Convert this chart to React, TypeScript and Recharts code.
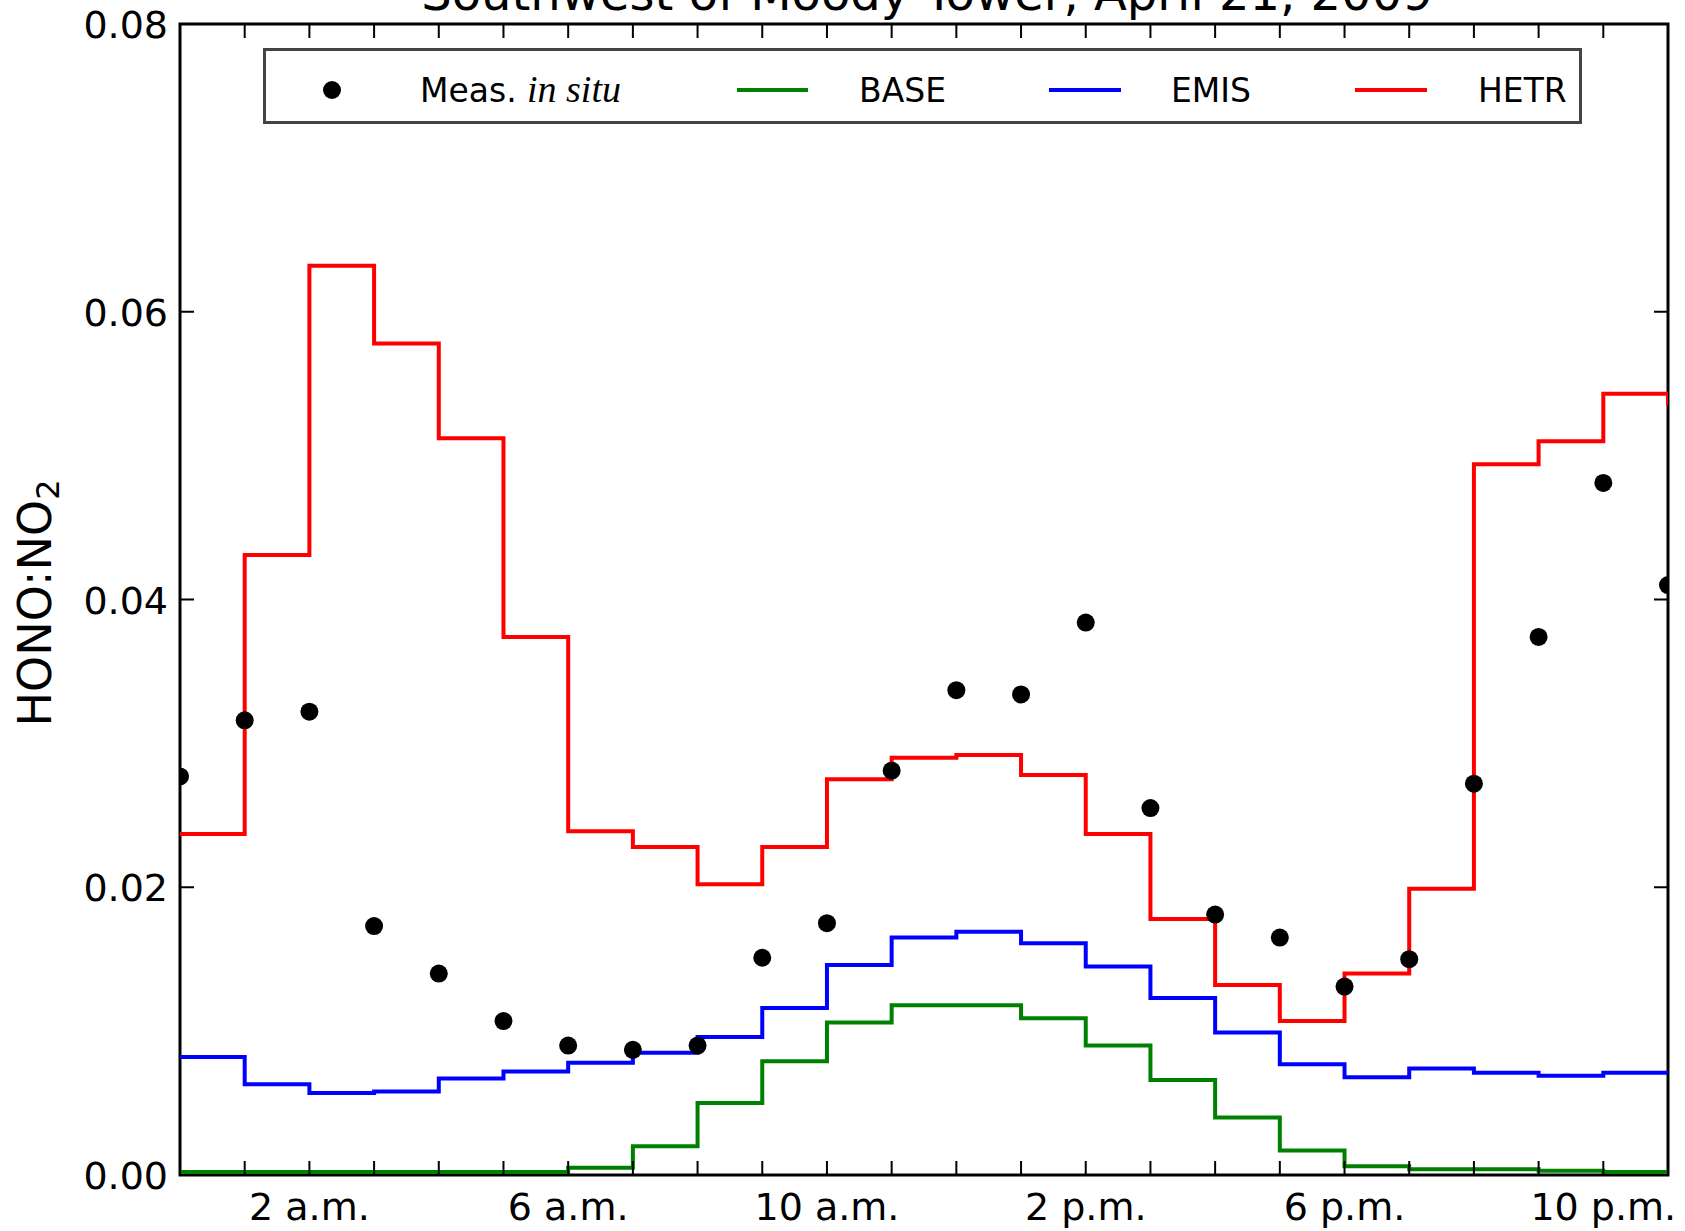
import React from 'react';
import { ComposedChart, Line, Scatter, XAxis, YAxis, Legend, ReferenceArea } from 'recharts';

const hours = [0, 1, 2, 3, 4, 5, 6, 7, 8, 9, 10, 11, 12, 13, 14, 15, 16, 17, 18, 19, 20, 21, 22, 23];
const measured = [0.0277, 0.0316, 0.0322, 0.0173, 0.0140, 0.0107, 0.0090, 0.0087, 0.0090, 0.0151, 0.0175, 0.0281, 0.0337, 0.0334, 0.0384, 0.0255, 0.0181, 0.0165, 0.0131, 0.0150, 0.0272, 0.0374, 0.0481, 0.0410];
const baseRun = [0.0002, 0.0002, 0.0002, 0.0002, 0.0002, 0.0002, 0.0005, 0.0020, 0.0050, 0.0079, 0.0106, 0.0118, 0.0118, 0.0109, 0.0090, 0.0066, 0.0040, 0.0017, 0.0006, 0.0004, 0.0004, 0.0003, 0.0002, 0.0002];
const emisRun = [0.0082, 0.0063, 0.0057, 0.0058, 0.0067, 0.0072, 0.0078, 0.0085, 0.0096, 0.0116, 0.0146, 0.0165, 0.0169, 0.0161, 0.0145, 0.0123, 0.0099, 0.0077, 0.0068, 0.0074, 0.0071, 0.0069, 0.0071, 0.0071];
const hetrRun = [0.0237, 0.0431, 0.0632, 0.0578, 0.0512, 0.0374, 0.0239, 0.0228, 0.0202, 0.0228, 0.0275, 0.0290, 0.0292, 0.0278, 0.0237, 0.0178, 0.0132, 0.0107, 0.0140, 0.0199, 0.0494, 0.0510, 0.0543, 0.0535];

const yTicks = [0, 0.02, 0.04, 0.06, 0.08];
const yTickLabels = ['0.00', '0.02', '0.04', '0.06', '0.08'];
const xLabelHours = [2, 6, 10, 14, 18, 22];
const xLabelTexts = ['2 a.m.', '6 a.m.', '10 a.m.', '2 p.m.', '6 p.m.', '10 p.m.'];
const chartTitle = 'Southwest of Moody Tower, April 21, 2009';

const data = hours.map((h, i) => ({
  hour: h,
  meas: measured[i],
  base: baseRun[i],
  emis: emisRun[i],
  hetr: hetrRun[i],
}));

const FONT = 'DejaVu Sans';
const TICK_LEN = 14;

const BottomTick = (props: any) => {
  const { x, y, payload } = props;
  const idx = xLabelHours.indexOf(payload.value);
  return (
    <g>
      <line x1={x} x2={x} y1={y} y2={y - TICK_LEN} stroke="#000" strokeWidth={2} />
      {idx >= 0 && (
        <text x={x} y={y + 45} textAnchor="middle" fontSize={38} fontFamily={FONT} fill="#000">
          {xLabelTexts[idx]}
        </text>
      )}
    </g>
  );
};

const TopTick = (props: any) => {
  const { x, y } = props;
  return <line x1={x} x2={x} y1={y} y2={y + TICK_LEN} stroke="#000" strokeWidth={2} />;
};

const LeftTick = (props: any) => {
  const { x, y, payload } = props;
  const idx = yTicks.indexOf(payload.value);
  return (
    <g>
      <line x1={x} x2={x + TICK_LEN} y1={y} y2={y} stroke="#000" strokeWidth={2} />
      <text x={x - 12} y={y + 14} textAnchor="end" fontSize={38} fontFamily={FONT} fill="#000">
        {idx >= 0 ? yTickLabels[idx] : ''}
      </text>
    </g>
  );
};

const RightTick = (props: any) => {
  const { x, y } = props;
  return <line x1={x} x2={x - TICK_LEN} y1={y} y2={y} stroke="#000" strokeWidth={2} />;
};

const TitleLabel = () => (
  <text x={927} y={10} textAnchor="middle" fontSize={48} fontFamily={FONT} fill="#000">
    {chartTitle}
  </text>
);

const YLabel = () => (
  <text
    x={51}
    y={603}
    transform="rotate(-90, 51, 603)"
    textAnchor="middle"
    fontSize={46}
    fontFamily={FONT}
    fill="#000"
  >
    HONO:NO
    <tspan fontSize={32} dy={8}>2</tspan>
  </text>
);

const LegendBox = () => (
  <svg width={1319} height={76} style={{ display: 'block' }}>
    <rect x={1.5} y={1.5} width={1316} height={73} fill="#fff" stroke="#444" strokeWidth={3} />
    <circle cx={69} cy={42} r={9} fill="#000" />
    <text x={157} y={54} fontSize={33} fontFamily={FONT} fill="#000">Meas.</text>
    <text x={264} y={54} fontSize={38} fontFamily="Liberation Serif" fontStyle="italic" fill="#000">in situ</text>
    <line x1={474} x2={545} y1={42} y2={42} stroke="#008000" strokeWidth={4} />
    <text x={596} y={54} fontSize={33} fontFamily={FONT} fill="#000">BASE</text>
    <line x1={786} x2={858} y1={42} y2={42} stroke="#0000ff" strokeWidth={4} />
    <text x={908} y={54} fontSize={33} fontFamily={FONT} fill="#000">EMIS</text>
    <line x1={1092} x2={1164} y1={42} y2={42} stroke="#ff0000" strokeWidth={4} />
    <text x={1215} y={54} fontSize={33} fontFamily={FONT} fill="#000">HETR</text>
  </svg>
);

const Dot = (props: any) => <circle cx={props.cx} cy={props.cy} r={9} fill="#000" />;

export default function App() {
  return (
    <div style={{ position: 'absolute', left: 0, top: 0, background: '#fff' }}>
      <ComposedChart
        width={1685}
        height={1231}
        data={data}
        margin={{ top: 23, right: 16, bottom: 55, left: 179 }}
      >
        <XAxis
          xAxisId="b"
          dataKey="hour"
          type="number"
          domain={[0, 23]}
          ticks={hours}
          interval={0}
          allowDataOverflow
          orientation="bottom"
          height={1}
          tickSize={0}
          tickMargin={0}
          tickLine={false}
          axisLine={false}
          tick={<BottomTick />}
        />
        <XAxis
          xAxisId="t"
          dataKey="hour"
          type="number"
          domain={[0, 23]}
          ticks={hours}
          interval={0}
          allowDataOverflow
          orientation="top"
          height={1}
          tickSize={0}
          tickMargin={0}
          tickLine={false}
          axisLine={false}
          tick={<TopTick />}
          label={{ content: <TitleLabel /> }}
        />
        <YAxis
          yAxisId="l"
          type="number"
          domain={[0, 0.08]}
          ticks={yTicks}
          interval={0}
          allowDataOverflow
          orientation="left"
          width={1}
          tickSize={0}
          tickMargin={0}
          tickLine={false}
          axisLine={false}
          tick={<LeftTick />}
          label={{ content: <YLabel /> }}
        />
        <YAxis
          yAxisId="r"
          type="number"
          domain={[0, 0.08]}
          ticks={yTicks}
          interval={0}
          allowDataOverflow
          orientation="right"
          width={1}
          tickSize={0}
          tickMargin={0}
          tickLine={false}
          axisLine={false}
          tick={<RightTick />}
        />
        <Scatter
          xAxisId="b"
          yAxisId="l"
          dataKey="meas"
          name="Meas. in situ"
          fill="#000"
          shape={<Dot />}
          isAnimationActive={false}
        />
        <Line xAxisId="b" yAxisId="l" type="stepAfter" dataKey="base" name="BASE" stroke="#008000" strokeWidth={4} dot={false} activeDot={false} isAnimationActive={false} />
        <Line xAxisId="b" yAxisId="l" type="stepAfter" dataKey="emis" name="EMIS" stroke="#0000ff" strokeWidth={4} dot={false} activeDot={false} isAnimationActive={false} />
        <Line xAxisId="b" yAxisId="l" type="stepAfter" dataKey="hetr" name="HETR" stroke="#ff0000" strokeWidth={4} dot={false} activeDot={false} isAnimationActive={false} />
        <ReferenceArea
          xAxisId="b"
          yAxisId="l"
          x1={0}
          x2={23}
          y1={0}
          y2={0.08}
          fill="none"
          fillOpacity={0}
          stroke="#000"
          strokeWidth={3}
          ifOverflow="visible"
        />
        <Legend
          layout="vertical"
          align="center"
          verticalAlign="middle"
          content={<LegendBox />}
          wrapperStyle={{ position: 'absolute', left: 263, top: 48, width: 1319, height: 76 }}
        />
      </ComposedChart>
    </div>
  );
}
